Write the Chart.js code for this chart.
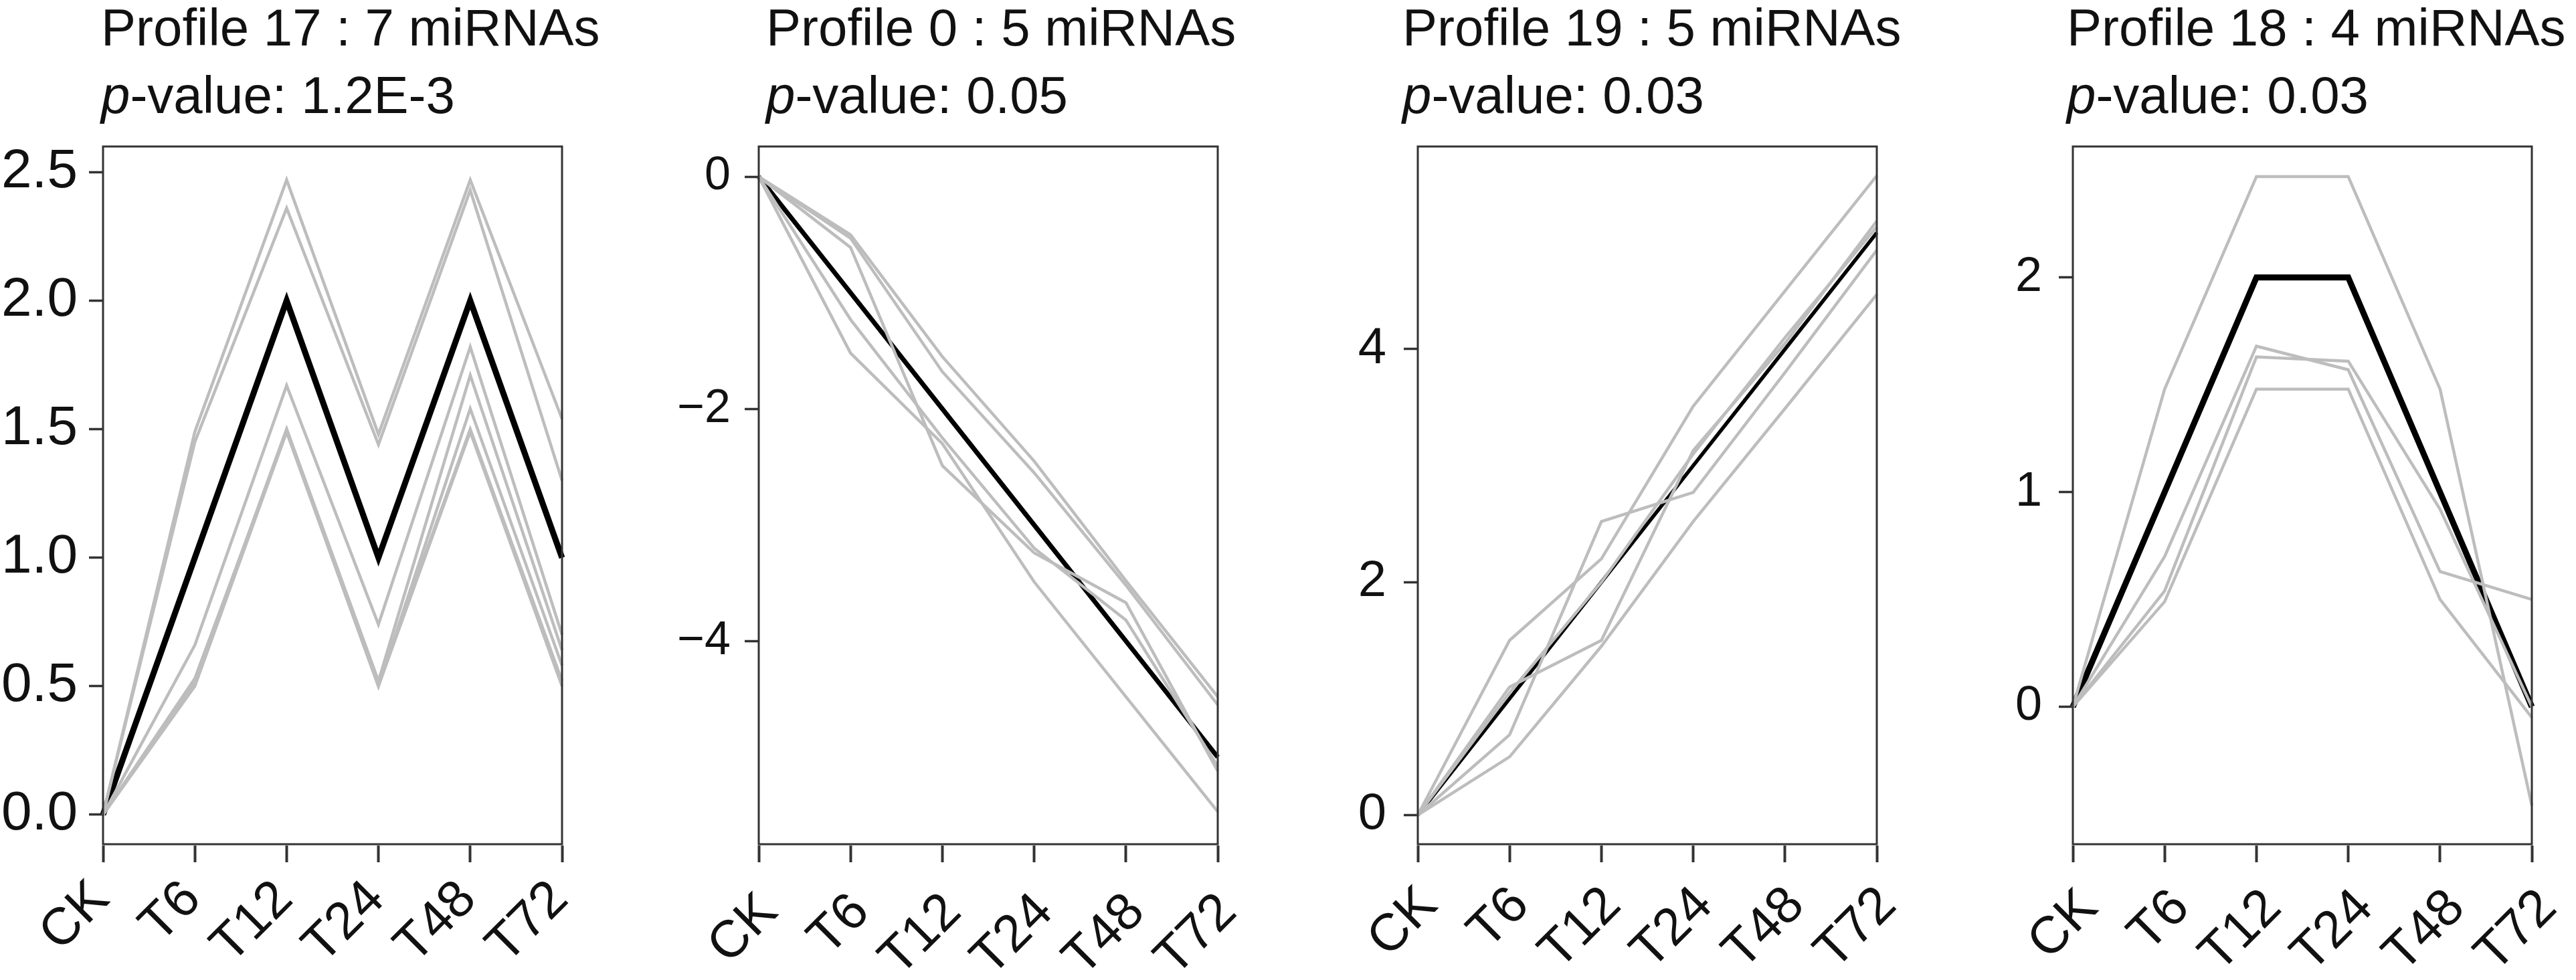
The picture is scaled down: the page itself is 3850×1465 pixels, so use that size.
<!DOCTYPE html>
<html>
<head>
<meta charset="utf-8">
<script src="https://cdn.jsdelivr.net/npm/chart.js@4.4.1/dist/chart.umd.min.js"></script>
<style>
  html, body { margin: 0; padding: 0; background: #fff; overflow: hidden; }
  body { width: 3850px; height: 1465px; position: relative; }
  canvas { position: absolute; top: 0; }
</style>
</head>
<body>
<canvas id="c17" width="970" height="1465"></canvas>
<canvas id="c0" width="970" height="1465"></canvas>
<canvas id="c19" width="970" height="1465"></canvas>
<canvas id="c18" width="970" height="1465"></canvas>
<script>
// ─── Data ───
const timePoints = ['CK', 'T6', 'T12', 'T24', 'T48', 'T72'];

// Profile 17 : 7 miRNAs
const p17Mean = [0, 1, 2, 1, 2, 1];
const p17Members = [
    [0, 1.49, 2.47, 1.48, 2.47, 1.54],
    [0, 1.45, 2.36, 1.44, 2.43, 1.30],
    [0, 0.66, 1.67, 0.74, 1.82, 0.70],
    [0, 0.52, 1.50, 0.52, 1.71, 0.64],
    [0, 0.50, 1.49, 0.50, 1.58, 0.58],
    [0, 0.51, 1.50, 0.51, 1.50, 0.52],
    [0, 0.53, 1.49, 0.50, 1.49, 0.50]
];
const p17Ticks = [0, 0.5, 1, 1.5, 2, 2.5];
const p17TickLabels = ['0.0', '0.5', '1.0', '1.5', '2.0', '2.5'];

// Profile 0 : 5 miRNAs
const p0Mean = [0, -1, -2, -3, -4, -5];
const p0Members = [
    [0, -0.50, -1.55, -2.45, -3.48, -4.48],
    [0, -0.53, -1.68, -2.55, -3.52, -4.55],
    [0, -0.61, -2.49, -3.24, -3.67, -5.12],
    [0, -1.23, -2.25, -3.20, -3.82, -5.08],
    [0, -1.52, -2.30, -3.49, -4.48, -5.47]
];
const p0Ticks = [0, -2, -4];
const p0TickLabels = ['0', '\u22122', '\u22124'];

// Profile 19 : 5 miRNAs
const p19Mean = [0, 1, 2, 3, 4, 5];
const p19Members = [
    [0, 1.50, 2.20, 3.51, 4.50, 5.49],
    [0, 0.69, 2.52, 2.77, 3.80, 4.85],
    [0, 1.10, 1.50, 3.13, 4.05, 5.10],
    [0, 0.50, 1.45, 2.52, 3.49, 4.47],
    [0, 1.05, 2.00, 3.10, 4.10, 5.05]
];
const p19Ticks = [0, 2, 4];
const p19TickLabels = ['0', '2', '4'];

// Profile 18 : 4 miRNAs
const p18Mean = [0, 1, 2, 2, 1, 0];
const p18Members = [
    [0, 1.48, 2.47, 2.47, 1.48, -0.46],
    [0, 0.70, 1.68, 1.57, 0.63, 0.50],
    [0, 0.54, 1.63, 1.61, 0.92, 0.00],
    [0, 0.49, 1.48, 1.48, 0.50, -0.05]
];
const p18Ticks = [0, 1, 2];
const p18TickLabels = ['0', '1', '2'];

// ─── Layout ───
const FONT = '"Liberation Sans", Arial, Helvetica, sans-serif';
const AXIS_W = 154;        // canvas x of the plot box
const BOX_W = 686;
const BOX_TOP = 219;
const BOX_BOTTOM = 1262;
const CANVAS_W = 970;
const CANVAS_H = 1465;

// each panel was set a little differently in the original figure
const panels = [
    { id: 'c17', boxLeft: 154,  titleShift: -3,  title: 'Profile 17 : 7 miRNAs', pval: '1.2E-3',
      mean: p17Mean, members: p17Members, ticks: p17Ticks, tickLabels: p17TickLabels, min: -0.115, max: 2.6,
      meanWidth: 9, yFont: 82, yGap: 0, yPad: 17, xShift: -3, xPad: 10 },
    { id: 'c0',  boxLeft: 1134, titleShift: 11,  title: 'Profile 0 : 5 miRNAs',  pval: '0.05',
      mean: p0Mean, members: p0Members, ticks: p0Ticks, tickLabels: p0TickLabels, min: -5.75, max: 0.26,
      meanWidth: 7, yFont: 70, yGap: 6, yPad: 15, xShift: 16, xPad: 29 },
    { id: 'c19', boxLeft: 2119, titleShift: -23, title: 'Profile 19 : 5 miRNAs', pval: '0.03',
      mean: p19Mean, members: p19Members, ticks: p19Ticks, tickLabels: p19TickLabels, min: -0.25, max: 5.74,
      meanWidth: 5.5, yFont: 76, yGap: 9, yPad: 17, xShift: 17, xPad: 19 },
    { id: 'c18', boxLeft: 3098, titleShift: -9,  title: 'Profile 18 : 4 miRNAs', pval: '0.03',
      mean: p18Mean, members: p18Members, ticks: p18Ticks, tickLabels: p18TickLabels, min: -0.64, max: 2.61,
      meanWidth: 9, yFont: 72, yGap: 9, yPad: 16, xShift: 25, xPad: 23 }
];

// ─── Plugins: box around plot area + two-line title ───
const boxPlugin = {
    id: 'plotBox',
    afterDatasetsDraw(chart) {
        const { ctx, chartArea: a } = chart;
        ctx.save();
        ctx.strokeStyle = '#333';
        ctx.lineWidth = 3;
        ctx.strokeRect(a.left, a.top, a.right - a.left, a.bottom - a.top);
        ctx.restore();
    }
};

const titlePlugin = {
    id: 'profileTitle',
    afterDraw(chart, args, opts) {
        const { ctx, chartArea: a } = chart;
        const x = a.left + opts.shift;
        ctx.save();
        ctx.fillStyle = '#111';
        ctx.textBaseline = 'alphabetic';
        ctx.textAlign = 'left';
        ctx.font = '78px ' + FONT;
        ctx.fillText(opts.line1, x, 68);
        ctx.font = 'italic 78px ' + FONT;
        ctx.fillText('p', x, 169);
        const w = ctx.measureText('p').width;
        ctx.font = '78px ' + FONT;
        ctx.fillText('-value: ' + opts.pval, x + w, 169);
        ctx.restore();
    }
};

function drawPanel(p) {
    const canvas = document.getElementById(p.id);
    canvas.style.left = (p.boxLeft - AXIS_W) + 'px';

    const datasets = p.members.map(m => ({
        data: m,
        borderColor: '#bdbdbd',
        borderWidth: 4.5,
        pointRadius: 0,
        tension: 0
    }));
    datasets.push({
        data: p.mean,
        borderColor: '#000',
        borderWidth: p.meanWidth,
        pointRadius: 0,
        tension: 0
    });

    const yTickLen = p.yGap + 21;

    new Chart(canvas, {
        type: 'line',
        data: { labels: timePoints, datasets },
        plugins: [boxPlugin, titlePlugin],
        options: {
            responsive: false,
            animation: false,
            devicePixelRatio: 1,
            layout: { padding: { top: BOX_TOP, left: 0, bottom: 0, right: CANVAS_W - AXIS_W - BOX_W } },
            plugins: {
                legend: { display: false },
                tooltip: { enabled: false },
                profileTitle: { line1: p.title, pval: p.pval, shift: p.titleShift }
            },
            scales: {
                x: {
                    offset: false,
                    border: { display: false },
                    grid: {
                        drawOnChartArea: false,
                        tickLength: 27,
                        tickWidth: 4,
                        tickColor: '#333',
                        tickBorderDash: [0, 2, 25, 200]
                    },
                    ticks: {
                        autoSkip: false,
                        minRotation: 45,
                        maxRotation: 45,
                        padding: p.xPad,
                        labelOffset: p.xShift,
                        color: '#111',
                        font: { family: FONT, size: 78 }
                    },
                    afterFit: s => { s.height = CANVAS_H - BOX_BOTTOM; }
                },
                y: {
                    min: p.min,
                    max: p.max,
                    border: { display: false },
                    grid: {
                        drawOnChartArea: false,
                        tickLength: yTickLen,
                        tickWidth: 3.5,
                        tickColor: '#333',
                        tickBorderDash: [0, p.yGap, 21, 200]
                    },
                    afterBuildTicks: s => { s.ticks = p.ticks.map(v => ({ value: v })); },
                    ticks: {
                        padding: p.yPad,
                        color: '#111',
                        font: { family: FONT, size: p.yFont },
                        callback: v => p.tickLabels[p.ticks.indexOf(v)]
                    },
                    afterFit: s => { s.width = AXIS_W; }
                }
            }
        }
    });
}

panels.forEach(drawPanel);
</script>
</body>
</html>
